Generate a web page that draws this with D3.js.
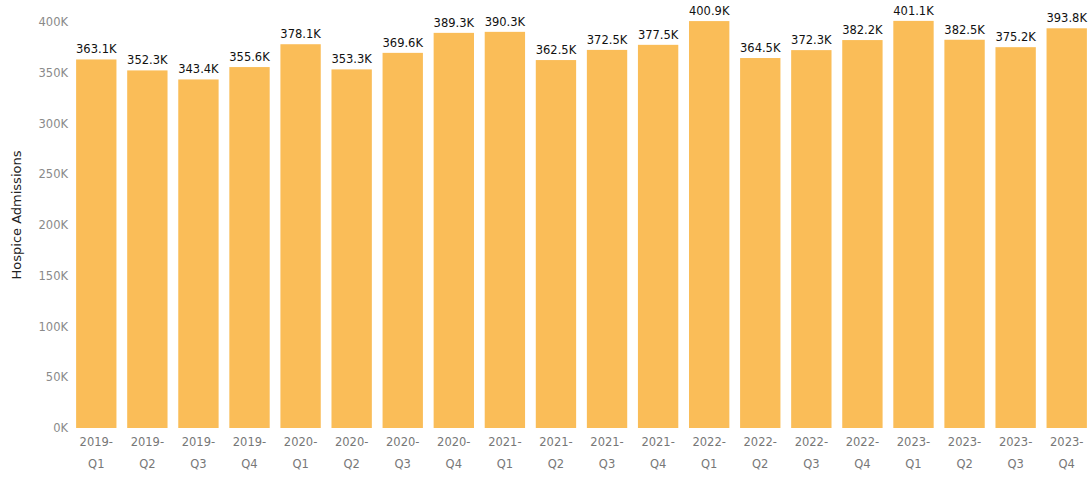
<!DOCTYPE html>
<html>
<head>
<meta charset="utf-8">
<script src="https://cdn.jsdelivr.net/npm/d3@7"></script>
<style>
  body { margin: 0; background: #fff; }
  svg { display: block; font-family: "DejaVu Sans", Verdana, sans-serif; }
</style>
</head>
<body>
<svg id="chart" width="1088" height="478"></svg>
<script>
// quarters and admissions (thousands)
var years = ["2019", "2019", "2019", "2019", "2020", "2020", "2020", "2020", "2021", "2021",
             "2021", "2021", "2022", "2022", "2022", "2022", "2023", "2023", "2023", "2023"]
var quarters = ["Q1", "Q2", "Q3", "Q4", "Q1", "Q2", "Q3", "Q4", "Q1", "Q2",
                "Q3", "Q4", "Q1", "Q2", "Q3", "Q4", "Q1", "Q2", "Q3", "Q4"]
var admissions = [363.1, 352.3, 343.4, 355.6, 378.1, 353.3, 369.6, 389.3, 390.3, 362.5,
                  372.5, 377.5, 400.9, 364.5, 372.3, 382.2, 401.1, 382.5, 375.2, 393.8]
var yTicks = [0, 50, 100, 150, 200, 250, 300, 350, 400]

var data = admissions.map(function(v, i) {
    return { key: years[i] + "-" + quarters[i], year: years[i], q: quarters[i], value: v }
})

var svg = d3.select("#chart")

var x = d3.scaleBand()
    .domain(data.map(function(d) { return d.key }))
    .range([71, 1092])
    .paddingInner(0.21)
    .paddingOuter(0.1)

var y = d3.scaleLinear()
    .domain([0, 400])
    .range([428, 22])

// y axis, labels only
var yAxis = d3.axisLeft(y)
    .tickValues(yTicks)
    .tickSize(0)
    .tickPadding(0)
    .tickFormat(function(d) { return d + "K" })

svg.append("g")
    .attr("transform", "translate(68,0)")
    .call(yAxis)
    .call(function(g) { g.select(".domain").remove() })
    .selectAll("text")
    .attr("fill", "#8a8a8a")
    .style("font-size", "11.5px")
    .style("font-family", "DejaVu Sans, Verdana, sans-serif")

// axis title
svg.append("text")
    .attr("transform", "translate(21,215) rotate(-90)")
    .attr("text-anchor", "middle")
    .attr("fill", "#222")
    .style("font-size", "13px")
    .text("Hospice Admissions")

// bars
svg.selectAll("rect.bar")
    .data(data)
    .enter()
    .append("rect")
    .classed("bar", true)
    .attr("x", function(d) { return x(d.key) })
    .attr("width", x.bandwidth())
    .attr("y", function(d) { return y(d.value) })
    .attr("height", function(d) { return y(0) - y(d.value) })
    .attr("fill", "#fabd58")

// value labels
svg.selectAll("text.val")
    .data(data)
    .enter()
    .append("text")
    .classed("val", true)
    .attr("x", function(d) { return x(d.key) + x.bandwidth() / 2 })
    .attr("y", function(d) { return y(d.value) - 6 })
    .attr("text-anchor", "middle")
    .attr("fill", "#111")
    .style("font-size", "11.5px")
    .text(function(d) { return d.value.toFixed(1) + "K" })

// x labels, two lines
var xl = svg.selectAll("text.xl")
    .data(data)
    .enter()
    .append("text")
    .classed("xl", true)
    .attr("text-anchor", "middle")
    .attr("fill", "#777")
    .style("font-size", "11.5px")

xl.append("tspan")
    .attr("x", function(d) { return x(d.key) + x.bandwidth() / 2 })
    .attr("y", 446)
    .text(function(d) { return d.year + "-" })

xl.append("tspan")
    .attr("x", function(d) { return x(d.key) + x.bandwidth() / 2 })
    .attr("y", 468)
    .text(function(d) { return d.q })
</script>
</body>
</html>
